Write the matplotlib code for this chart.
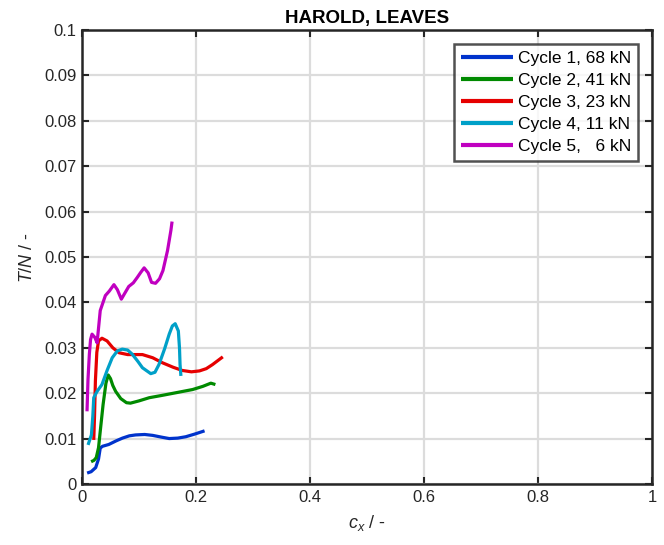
import numpy as np
import matplotlib
matplotlib.use('Agg')
from matplotlib import pyplot as plt

plt.rcParams['font.family'] = ['Liberation Sans', 'DejaVu Sans']
plt.rcParams['mathtext.fontset'] = 'custom'
plt.rcParams['mathtext.it'] = 'Liberation Sans:italic'
plt.rcParams['mathtext.rm'] = 'Liberation Sans'

## data (cx, T/N)
cx_1 = [0.009, 0.016, 0.024, 0.029, 0.032, 0.036, 0.047, 0.060, 0.071, 0.083, 0.094, 0.110, 0.124, 0.140, 0.153, 0.168, 0.182, 0.198, 0.215]
tn_1 = [0.0024, 0.0027, 0.0036, 0.0055, 0.0079, 0.0083, 0.0087, 0.0095, 0.0101, 0.0106, 0.0108, 0.0109, 0.0107, 0.0103, 0.0100, 0.0101, 0.0104, 0.0110, 0.0117]

cx_2 = [0.016, 0.021, 0.025, 0.029, 0.032, 0.037, 0.042, 0.046, 0.050, 0.054, 0.059, 0.068, 0.078, 0.085, 0.100, 0.118, 0.140, 0.165, 0.194, 0.212, 0.226, 0.234]
tn_2 = [0.0049, 0.0052, 0.0058, 0.0080, 0.0116, 0.0175, 0.0222, 0.0240, 0.0232, 0.0217, 0.0204, 0.0188, 0.0179, 0.0178, 0.0183, 0.0190, 0.0195, 0.0201, 0.0208, 0.0215, 0.0222, 0.0219]

cx_3 = [0.0206, 0.022, 0.0235, 0.026, 0.029, 0.035, 0.044, 0.054, 0.065, 0.080, 0.095, 0.106, 0.124, 0.141, 0.160, 0.176, 0.192, 0.206, 0.218, 0.229, 0.247]
tn_3 = [0.0097, 0.0150, 0.0227, 0.0290, 0.0315, 0.0321, 0.0315, 0.0300, 0.0289, 0.0285, 0.0285, 0.0285, 0.0278, 0.0267, 0.0257, 0.0250, 0.0247, 0.0249, 0.0254, 0.0263, 0.0280]

cx_4 = [0.0106, 0.0165, 0.019, 0.0206, 0.0265, 0.035, 0.044, 0.053, 0.062, 0.0706, 0.080, 0.088, 0.098, 0.106, 0.1206, 0.128, 0.135, 0.145, 0.153, 0.1585, 0.1635, 0.169, 0.171, 0.172, 0.1735]
tn_4 = [0.0086, 0.0108, 0.0150, 0.0190, 0.0204, 0.0219, 0.0250, 0.0278, 0.0293, 0.0297, 0.0295, 0.0286, 0.0270, 0.0256, 0.0243, 0.0246, 0.0263, 0.0298, 0.0330, 0.0348, 0.0353, 0.0337, 0.0300, 0.0263, 0.0238]

cx_5 = [0.0088, 0.0105, 0.0129, 0.0150, 0.0176, 0.0224, 0.0265, 0.032, 0.041, 0.048, 0.056, 0.062, 0.069, 0.075, 0.082, 0.090, 0.097, 0.103, 0.109, 0.116, 0.122, 0.129, 0.136, 0.142, 0.150, 0.156, 0.158]
tn_5 = [0.0160, 0.0230, 0.0286, 0.0318, 0.0330, 0.0323, 0.0311, 0.0382, 0.0415, 0.0425, 0.0439, 0.0428, 0.0407, 0.0420, 0.0435, 0.0443, 0.0455, 0.0466, 0.0476, 0.0465, 0.0444, 0.0442, 0.0452, 0.0470, 0.0514, 0.0559, 0.0578]

labels = ['Cycle 1, 68 kN', 'Cycle 2, 41 kN', 'Cycle 3, 23 kN', 'Cycle 4, 11 kN', 'Cycle 5,   6 kN']
colors = ['#0033cc', '#008a00', '#e60000', '#00a0c8', '#c000c0']

##
fig = plt.figure(figsize=(6.64, 5.45), dpi=100)
ax = fig.add_axes([0.1235, 0.112, 0.8585, 0.833])
series = [(cx_1, tn_1), (cx_2, tn_2), (cx_3, tn_3), (cx_4, tn_4), (cx_5, tn_5)]
for (x, y), lab, col in zip(series, labels, colors):
    ax.plot(x, y, color=col, lw=2.3, label=lab, solid_capstyle='butt')

ax.set_xlim(0, 1)
ax.set_ylim(0, 0.1)
ax.set_xticks(np.arange(0, 1.01, 0.2))
ax.set_xticklabels(['0', '0.2', '0.4', '0.6', '0.8', '1'])
ax.set_yticks(np.arange(0, 0.1001, 0.01))
ax.set_yticklabels(['0'] + ['%.2f' % v for v in np.arange(0.01, 0.0951, 0.01)] + ['0.1'])
ax.grid(True, color='#dcdcdc', lw=1.6)
ax.set_axisbelow(True)
ax.tick_params(direction='in', length=5, width=1.5, top=True, right=True, labelsize=12, colors='#262626', pad=4)
for s in ax.spines.values():
    s.set_linewidth(1.8)
    s.set_color('#262626')

ax.set_xlabel(r'$c_x$ / -', fontsize=13, color='#262626', labelpad=6)
ax.set_ylabel(r'$T/N$ / -', fontsize=13, color='#262626', labelpad=6)
ax.set_title('HAROLD, LEAVES', fontsize=13.5, fontweight='bold', pad=5)

leg = ax.legend(loc='upper right', fontsize=12.5, frameon=True, fancybox=False, handlelength=3.0,
                handletextpad=0.27, borderaxespad=0.8, labelspacing=0.4, borderpad=0.4)
leg.get_frame().set_edgecolor('#262626')
leg.get_frame().set_linewidth(1.8)
for h in leg.get_lines():
    h.set_linewidth(3)

fig.savefig('out.png', dpi=100)
